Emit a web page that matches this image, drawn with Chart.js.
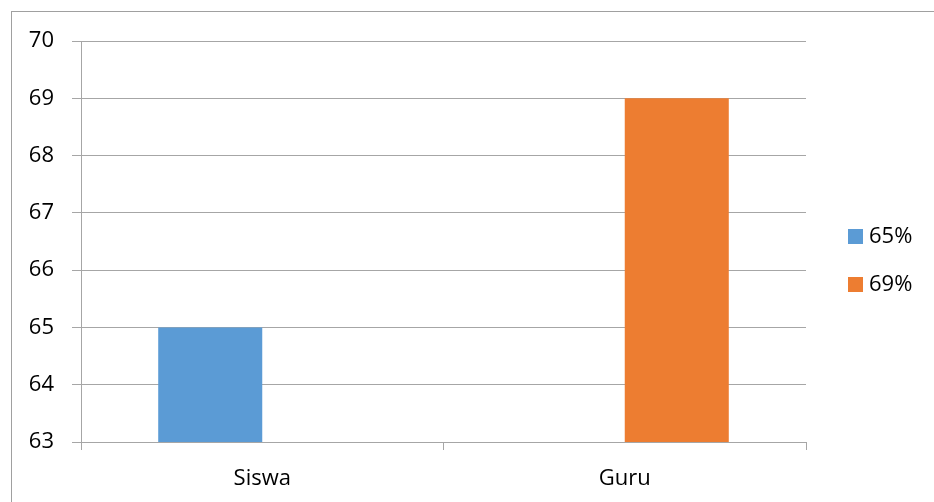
<!DOCTYPE html>
<html>
<head>
<meta charset="utf-8">
<script src="https://cdn.jsdelivr.net/npm/chart.js@4/dist/chart.umd.min.js"></script>
<style>
  html, body { margin: 0; padding: 0; background: #fff; overflow: hidden; }
  #frame { position: absolute; left: 11px; top: 11px; width: 960px; height: 520px;
           border-left: 1px solid #a0a0a0; border-top: 1px solid #a0a0a0; }
  #chart { position: absolute; left: 0; top: 0; }
</style>
</head>
<body>
<div id="frame"></div>
<canvas id="chart" width="934" height="502"></canvas>
<script>
// data
const categories = ['Siswa', 'Guru'];
const seriesNames = ['65%', '69%'];
const siswaValues = [65, null];
const guruValues = [null, 69];
const yMin = 63;
const yMax = 70;

const gridColor = '#a6a6a6';
const textColor = '#000';
const fontFamily = '"Open Sans", sans-serif';

// legend on the right, drawn from the datasets
const sideLegend = {
  id: 'sideLegend',
  afterDraw(chart) {
    const ctx = chart.ctx;
    ctx.save();
    ctx.font = '22px ' + fontFamily;
    ctx.textBaseline = 'middle';
    ctx.textAlign = 'left';
    chart.data.datasets.forEach((ds, i) => {
      const y = 236 + i * 48;
      ctx.fillStyle = ds.backgroundColor;
      ctx.fillRect(848, y - 7, 15, 15);
      ctx.fillStyle = textColor;
      ctx.fillText(ds.label, 869, y + 1);
    });
    ctx.restore();
  }
};

new Chart(document.getElementById('chart'), {
  type: 'bar',
  data: {
    labels: categories,
    datasets: [
      { label: seriesNames[0], data: siswaValues, backgroundColor: '#5b9bd5' },
      { label: seriesNames[1], data: guruValues, backgroundColor: '#ed7d31' }
    ]
  },
  options: {
    responsive: false,
    animation: false,
    devicePixelRatio: 1,
    categoryPercentage: 0.574,
    barPercentage: 1,
    layout: { padding: { left: 0, top: 41, right: 128, bottom: 0 } },
    plugins: {
      legend: { display: false },
      tooltip: { enabled: false }
    },
    scales: {
      x: {
        grid: { drawOnChartArea: false, color: gridColor, tickLength: 8, offset: true },
        border: { color: gridColor },
        ticks: { color: textColor, font: { family: fontFamily, size: 22 }, padding: 16 },
        afterFit(scale) { scale.height = 60; }
      },
      y: {
        min: yMin,
        max: yMax,
        grid: { color: gridColor, tickLength: 9 },
        border: { color: gridColor },
        ticks: { stepSize: 1, color: textColor, font: { family: fontFamily, size: 22 }, padding: 18 },
        afterFit(scale) { scale.width = 81; }
      }
    }
  },
  plugins: [sideLegend]
});
</script>
</body>
</html>
